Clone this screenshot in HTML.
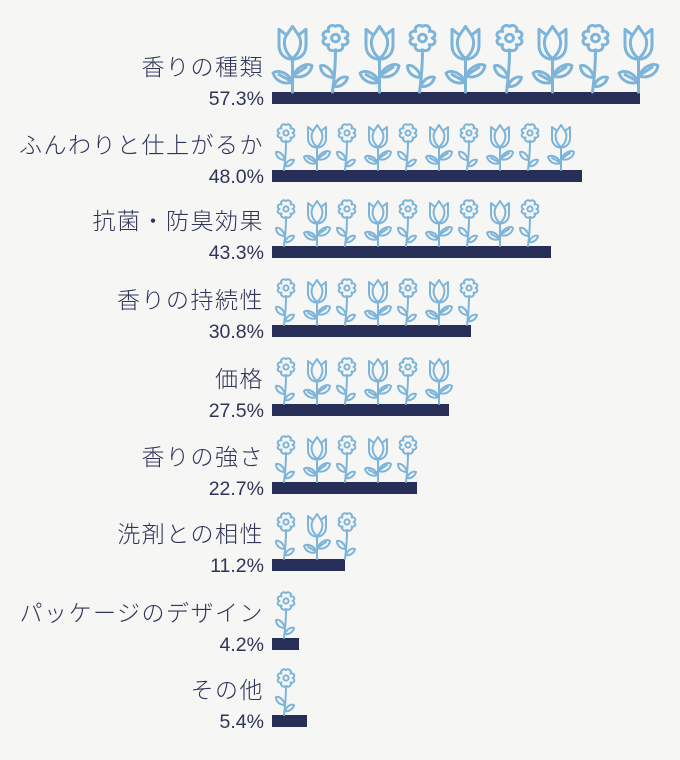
<!DOCTYPE html>
<html><head><meta charset="utf-8"><style>
body{margin:0;background:#f6f6f5;}
svg{display:block}
text{font-family:"Liberation Sans","Noto Sans CJK JP",sans-serif;fill:#2f3459;}
</style></head><body>
<svg width="680" height="760" viewBox="0 0 680 760" xmlns="http://www.w3.org/2000/svg">
<defs>
<g id="tulip" fill="none" stroke="#7db4da" stroke-width="2" stroke-linejoin="round" stroke-linecap="round">
<path d="M6 5 L11 9 L15 3 L19 9 L24 5 V16 C24 22 20 25.5 15 25.5 C10 25.5 6 22 6 16 Z"/>
<path d="M11 9 C8 14 10 21 15 25 M19 9 C22 14 20 21 15 25"/>
<path d="M15 25 V48"/>
<path d="M15 41 C11 33 4 33 2 35 C4 41 10 43 15 41 Z M15 41 L6 36"/>
<path d="M15 37 C19 29 26 28 28 30 C27 36 21 39 15 37 Z M15 37 L24 31"/>
</g>
<g id="flower" fill="none" stroke="#7db4da" stroke-width="2" stroke-linejoin="round" stroke-linecap="round">
<path d="M15 3 C18 1 21 4 19.5 6.5 C23 5.5 25 9.5 21.5 11 C25 12.5 23 16.5 19.5 15.5 C21 18 18 21 15 19 C12 21 9 18 10.5 15.5 C7 16.5 5 12.5 8.5 11 C5 9.5 7 5.5 10.5 6.5 C9 4 12 1 15 3 Z"/>
<circle cx="15" cy="11" r="2.6"/>
<path d="M15 19.5 C15 30 14 40 13 48"/>
<path d="M14 38 C12 31 7 29 5 30 C5 35 9 38 14 38 Z"/>
<path d="M14 44 C16 38 21 37 23 38 C22 42 18 45 14 44 Z"/>
</g>
</defs>
<g font-size="23" text-anchor="end" letter-spacing="1.5" font-weight="300">
<text x="264" y="75">香りの種類</text>
<text x="264" y="153">ふんわりと仕上がるか</text>
<text x="264" y="229">抗菌・防臭効果</text>
<text x="264" y="308">香りの持続性</text>
<text x="264" y="387">価格</text>
<text x="264" y="465">香りの強さ</text>
<text x="264" y="542">洗剤との相性</text>
<text x="264" y="621">パッケージのデザイン</text>
<text x="264" y="698">その他</text>
</g>
<g font-size="19.5" text-anchor="end">
<text x="264" y="105">57.3%</text>
<text x="264" y="183">48.0%</text>
<text x="264" y="259">43.3%</text>
<text x="264" y="338">30.8%</text>
<text x="264" y="417">27.5%</text>
<text x="264" y="495">22.7%</text>
<text x="264" y="572">11.2%</text>
<text x="264" y="651">4.2%</text>
<text x="264" y="728">5.4%</text>
</g>
<g fill="#272f58">
<rect x="272" y="92" width="368" height="12"/>
<rect x="272" y="170" width="310" height="12"/>
<rect x="272" y="246" width="279" height="12"/>
<rect x="272" y="325" width="199" height="12"/>
<rect x="272" y="404" width="177" height="12"/>
<rect x="272" y="482" width="145" height="12"/>
<rect x="272" y="559" width="73" height="12"/>
<rect x="272" y="638" width="27" height="12"/>
<rect x="272" y="715" width="35" height="12"/>
</g>
<g transform="translate(270,22) scale(1.5,1.46)"><use href="#tulip"/></g>
<g transform="translate(313,22) scale(1.5,1.46)"><use href="#flower"/></g>
<g transform="translate(357,22) scale(1.5,1.46)"><use href="#tulip"/></g>
<g transform="translate(400,22) scale(1.5,1.46)"><use href="#flower"/></g>
<g transform="translate(443,22) scale(1.5,1.46)"><use href="#tulip"/></g>
<g transform="translate(487,22) scale(1.5,1.46)"><use href="#flower"/></g>
<g transform="translate(530,22) scale(1.5,1.46)"><use href="#tulip"/></g>
<g transform="translate(573,22) scale(1.5,1.46)"><use href="#flower"/></g>
<g transform="translate(616,22) scale(1.5,1.46)"><use href="#tulip"/></g>
<use href="#flower" x="271" y="122"/><use href="#tulip" x="302" y="122"/><use href="#flower" x="332" y="122"/><use href="#tulip" x="363" y="122"/><use href="#flower" x="393" y="122"/><use href="#tulip" x="424" y="122"/><use href="#flower" x="454" y="122"/><use href="#tulip" x="485" y="122"/><use href="#flower" x="515" y="122"/><use href="#tulip" x="546" y="122"/>
<use href="#flower" x="271" y="198"/><use href="#tulip" x="302" y="198"/><use href="#flower" x="332" y="198"/><use href="#tulip" x="363" y="198"/><use href="#flower" x="393" y="198"/><use href="#tulip" x="424" y="198"/><use href="#flower" x="454" y="198"/><use href="#tulip" x="485" y="198"/><use href="#flower" x="515" y="198"/>
<use href="#flower" x="271" y="277"/><use href="#tulip" x="302" y="277"/><use href="#flower" x="332" y="277"/><use href="#tulip" x="363" y="277"/><use href="#flower" x="393" y="277"/><use href="#tulip" x="424" y="277"/><use href="#flower" x="454" y="277"/>
<use href="#flower" x="271" y="356"/><use href="#tulip" x="302" y="356"/><use href="#flower" x="332" y="356"/><use href="#tulip" x="363" y="356"/><use href="#flower" x="393" y="356"/><use href="#tulip" x="424" y="356"/>
<use href="#flower" x="271" y="434"/><use href="#tulip" x="302" y="434"/><use href="#flower" x="332" y="434"/><use href="#tulip" x="363" y="434"/><use href="#flower" x="393" y="434"/>
<use href="#flower" x="271" y="511"/><use href="#tulip" x="302" y="511"/><use href="#flower" x="332" y="511"/>
<use href="#flower" x="271" y="590"/>
<use href="#flower" x="271" y="667"/>
</svg>
</body></html>
